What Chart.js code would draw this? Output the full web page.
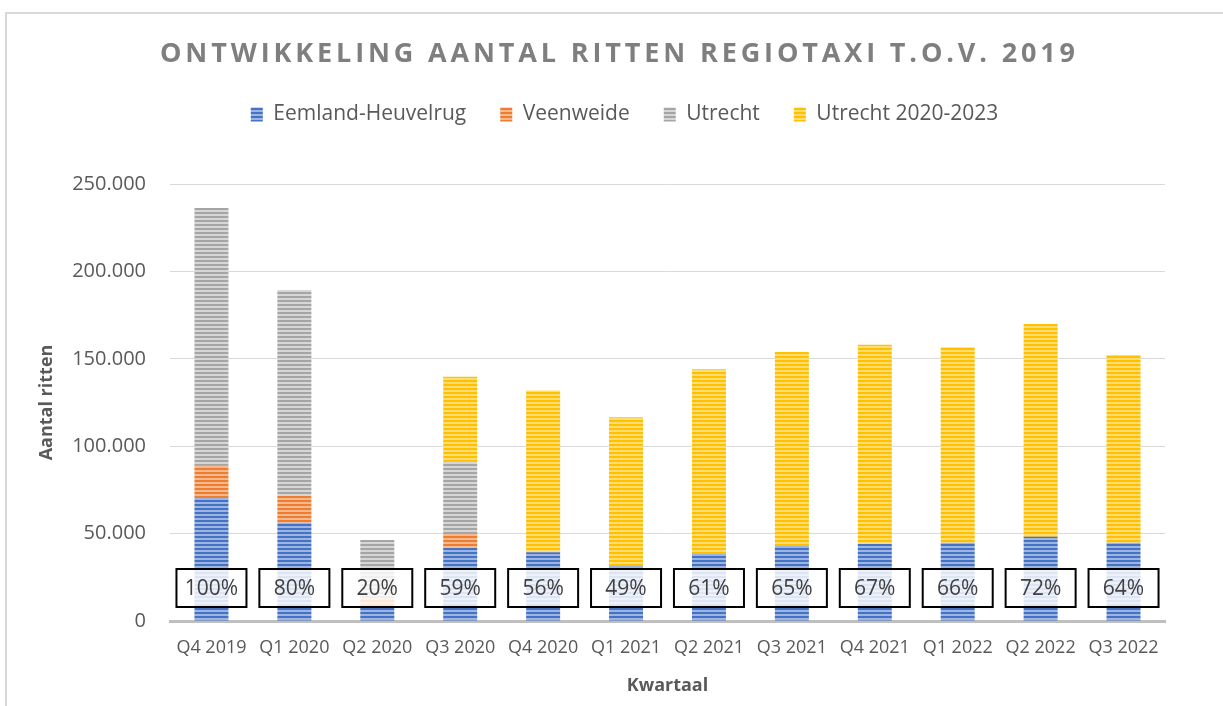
<!DOCTYPE html>
<html>
<head>
<meta charset="utf-8">
<script src="https://cdn.jsdelivr.net/npm/chart.js@4.4.1/dist/chart.umd.min.js"></script>
<style>
  html, body { margin: 0; padding: 0; background: #fff; }
  #wrap { position: relative; width: 1223px; height: 706px; }
  #frame { position: absolute; left: 5px; top: 12px; right: 0; bottom: 0;
           border-left: 2px solid #D9D9D9; border-top: 2px solid #D9D9D9; }
  canvas { position: absolute; left: 0; top: 0; }
</style>
</head>
<body>
<div id="wrap">
  <div id="frame"></div>
  <canvas id="c" width="1223" height="706"></canvas>
</div>
<script>
const categories = ["Q4 2019","Q1 2020","Q2 2020","Q3 2020","Q4 2020","Q1 2021","Q2 2021","Q3 2021","Q4 2021","Q1 2022","Q2 2022","Q3 2022"];
const eemland     = [70400, 56200, 8000, 41900, 39300, 31500, 38300, 42900, 44000, 44800, 48200, 44800];
const veenweide   = [18400, 15300, 5000, 7900, null, null, null, null, null, null, null, null];
const utrecht     = [147500, 117900, 33300, 41300, null, null, null, null, null, null, null, null];
const utrecht2020 = [null, null, null, 48700, 92500, 85000, 105700, 111000, 114000, 111800, 121700, 107400];
const percentLabels = ["100%","80%","20%","59%","56%","49%","61%","65%","67%","66%","72%","64%"];
const yTicks = [0, 50000, 100000, 150000, 200000, 250000];

const FONT = "'Open Sans', 'Noto Sans', sans-serif";

function stripe(base, light) {
  const p = document.createElement('canvas');
  p.width = 4; p.height = 4;
  const g = p.getContext('2d');
  g.fillStyle = base; g.fillRect(0, 0, 4, 2);
  g.fillStyle = light; g.fillRect(0, 2, 4, 2);
  return g.createPattern(p, 'repeat');
}
const pBlue = stripe('#4472C4', '#9DB5E0');
const pOrange = stripe('#ED7D31', '#F6B98E');
const pGray = stripe('#A5A5A5', '#D6D6D6');
const pYellow = stripe('#FFC000', '#FFDD73');

const fmt = v => String(v).replace(/\B(?=(\d{3})+(?!\d))/g, '.');

const legendPatch = {
  id: 'legendPatch',
  beforeLayout(chart) {
    const lg = chart.legend;
    if (lg && !lg._patched) {
      const f = lg.fit.bind(lg);
      lg.fit = function () { f(); this.height = 114; };
      lg._patched = true;
    }
  },
  afterLayout(chart) {
    const lg = chart.legend;
    if (lg) { lg.left += 42; lg.right += 42; }
  }
};

const titlePlugin = {
  id: 'customTitle',
  afterDraw(chart) {
    const c = chart.ctx;
    const text = "ONTWIKKELING AANTAL RITTEN REGIOTAXI T.O.V. 2019";
    c.save();
    c.font = "bold 27px " + FONT;
    c.fillStyle = '#7F7F7F';
    c.textBaseline = 'middle';
    c.textAlign = 'left';
    c.letterSpacing = '0px';
    const w = c.measureText(text).width;
    const target = 915;
    const sp = (target - w) / (text.length - 1);
    c.letterSpacing = sp + 'px';
    c.fillText(text, 617.5 - target / 2, 54);
    c.restore();
  }
};

const boxPlugin = {
  id: 'pctBoxes',
  afterDatasetsDraw(chart) {
    const c = chart.ctx;
    const xs = chart.scales.x;
    const cy = chart.chartArea.bottom - 33;
    c.save();
    percentLabels.forEach((t, i) => {
      const x = xs.getPixelForValue(i);
      const bw = 70, bh = 38;
      c.fillStyle = 'rgba(255,255,255,0.82)';
      c.fillRect(x - bw / 2, cy - bh / 2, bw, bh);
      c.strokeStyle = '#000';
      c.lineWidth = 2;
      c.strokeRect(x - bw / 2, cy - bh / 2, bw, bh);
      c.fillStyle = '#404040';
      c.font = "21px " + FONT;
      c.textAlign = 'center';
      c.textBaseline = 'middle';
      c.fillText(t, x, cy + 1);
    });
    c.restore();
  }
};

new Chart(document.getElementById('c'), {
  type: 'bar',
  data: {
    labels: categories,
    datasets: [
      { label: 'Eemland-Heuvelrug', data: eemland, backgroundColor: pBlue, borderWidth: 0 },
      { label: 'Veenweide', data: veenweide, backgroundColor: pOrange, borderWidth: 0 },
      { label: 'Utrecht', data: utrecht, backgroundColor: pGray, borderWidth: 0 },
      { label: 'Utrecht 2020-2023', data: utrecht2020, backgroundColor: pYellow, borderWidth: 0 }
    ]
  },
  options: {
    responsive: false,
    animation: false,
    layout: { padding: { top: 70, right: 58, left: 0, bottom: 0 } },
    datasets: { bar: { categoryPercentage: 1, barPercentage: 0.41 } },
    plugins: {
      title: { display: false },
      tooltip: { enabled: false },
      legend: {
        position: 'top',
        labels: {
          boxWidth: 12, boxHeight: 14, padding: 34,
          color: '#595959',
          font: { family: FONT, size: 21 }
        }
      }
    },
    scales: {
      x: {
        stacked: true,
        grid: { display: false, drawTicks: false },
        border: { color: '#BFBFBF', width: 3 },
        ticks: { color: '#595959', font: { family: FONT, size: 18 }, padding: 16, maxRotation: 0, autoSkip: false },
        title: { display: true, text: 'Kwartaal', color: '#595959', font: { family: FONT, size: 18, weight: 'bold' }, padding: { top: 0, bottom: 9 } },
        afterFit(s) { s.height = 85; }
      },
      y: {
        stacked: true,
        min: 0, max: 250000,
        afterBuildTicks(s) { s.ticks = yTicks.map(v => ({ value: v })); },
        grid: { color: '#D9D9D9', lineWidth: 1, drawTicks: false },
        border: { display: false },
        ticks: { color: '#595959', font: { family: FONT, size: 20 }, padding: 24, callback: v => fmt(v) },
        title: { display: true, text: 'Aantal ritten', color: '#595959', font: { family: FONT, size: 18, weight: 'bold' }, padding: { top: 36, bottom: 0 } },
        afterFit(s) { s.width = 170; }
      }
    }
  },
  plugins: [legendPatch, boxPlugin, titlePlugin]
});
</script>
</body>
</html>
